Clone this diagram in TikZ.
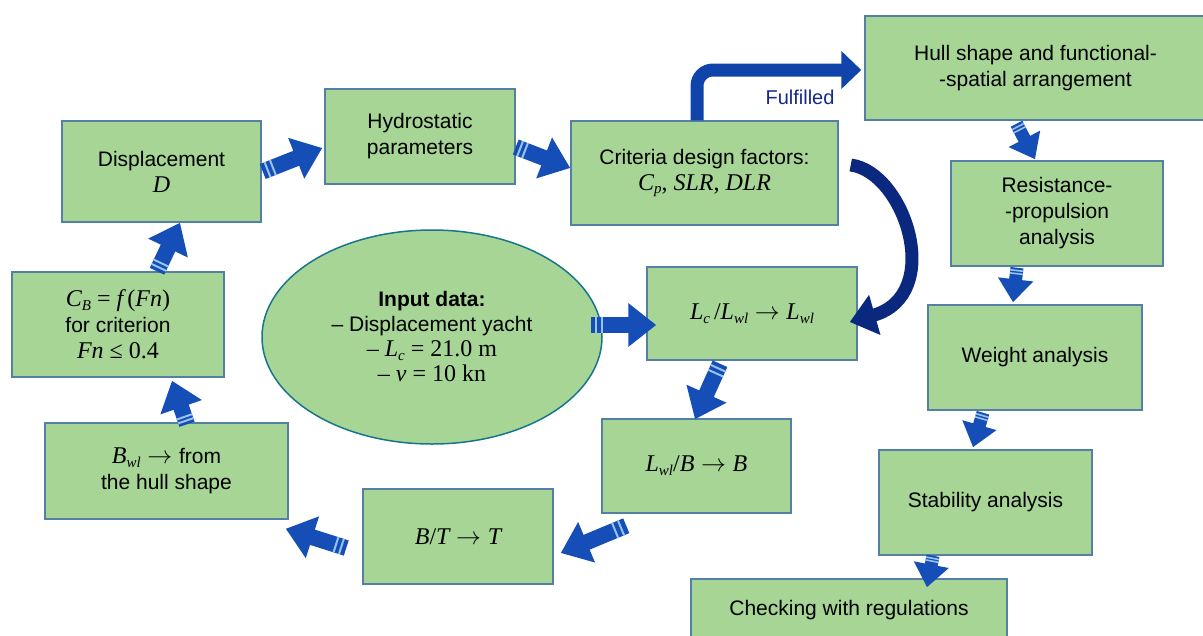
\documentclass[tikz,border=0pt]{standalone}
\usepackage{fontspec}
\setmainfont{Liberation Sans}
\newfontfamily\tnr{Liberation Serif}
\usetikzlibrary{arrows.meta,calc,shapes.geometric}
\definecolor{boxfill}{RGB}{166,213,150}
\definecolor{boxline}{RGB}{84,128,165}
\definecolor{ellline}{RGB}{24,118,140}
\definecolor{arrblue}{RGB}{20,78,182}
\definecolor{arrdark}{RGB}{10,40,125}
\definecolor{fulblue}{RGB}{16,68,170}
\definecolor{stripecol}{RGB}{150,195,240}
\definecolor{txtnavy}{RGB}{22,40,140}
\newcommand{\mv}[1]{{\fontsize{24}{26}\selectfont\tnr\itshape #1}}
\newcommand{\mr}[1]{{\fontsize{24}{26}\selectfont\tnr #1}}
\newcommand{\sbs}[1]{\raisebox{-0.35ex}{\fontsize{15}{15}\selectfont\tnr\itshape #1}}
\newcommand{\ar}{{\fontsize{24}{26}\selectfont\ $\rightarrow$\ }}
\newcommand{\BA}[4]{%
  \draw[#1] #3 -- #4;
  \path #3 -- #4 node[pos=0.08,#2]{} node[pos=0.17,#2]{};}
\begin{document}
\begin{tikzpicture}[x=1pt,y=-1pt,
  box/.style={draw=boxline, line width=1.5pt, fill=boxfill, align=center, inner sep=0pt, font=\fontsize{21}{26}\selectfont},
  bigarrow/.style={draw=arrblue, line width=16pt, -{Triangle[length=28pt,width=42pt]}},
  smallarrow/.style={draw=arrblue, line width=13pt, -{Triangle[length=23pt,width=34pt]}},
  stripeA/.style={fill=stripecol, inner sep=0pt, minimum width=2pt, minimum height=16pt, sloped},
  stripeB/.style={fill=stripecol, inner sep=0pt, minimum width=1.6pt, minimum height=13pt, sloped},
]
\useasboundingbox (0,0) rectangle (1203,635);

% boxes
\node[box, minimum width=199pt, minimum height=101pt] (disp) at (161.5,171.5) {Displacement\\\mv{D}};
\node[box, minimum width=190pt, minimum height=95pt] (hydro) at (420,136.5) {Hydrostatic\\parameters};
\node[box, minimum width=267pt, minimum height=104pt] (crit) at (704.5,173) {Criteria design factors:\\\mv{C}\sbs{p}\mr{, }\mv{SLR}\mr{, }\mv{DLR}};
\node[box, minimum width=341pt, minimum height=104pt] (hull) at (1035.5,68) {Hull shape and functional-\\-spatial arrangement};
\node[box, minimum width=212pt, minimum height=105pt] (res) at (1057,213.5) {Resistance-\\-propulsion\\analysis};
\node[box, minimum width=214pt, minimum height=105pt] (weight) at (1035,357.5) {Weight analysis};
\node[box, minimum width=213pt, minimum height=105pt] (stab) at (985.5,502.5) {Stability analysis};
\node[box, minimum width=316pt, minimum height=62pt] (check) at (849,610) {Checking with regulations};
\node[box, minimum width=210pt, minimum height=93pt] (lc) at (752,313.5) {\mv{L}\sbs{c}\mr{\,/}\mv{L}\sbs{wl}\ar\mv{L}\sbs{wl}};
\node[box, minimum width=189pt, minimum height=94pt] (lwlb) at (696.5,466) {\mv{L}\sbs{wl}\mr{/}\mv{B}\ar\mv{B}};
\node[box, minimum width=190pt, minimum height=95pt] (bt) at (458,536.5) {\mv{B}\mr{/}\mv{T}\ar\mv{T}};
\node[box, minimum width=243pt, minimum height=96pt] (bwl) at (166.5,471) {\mv{B}\sbs{wl}\ar from\\the hull shape};
\node[box, minimum width=212pt, minimum height=105pt] (cb) at (118,324.5) {\mv{C}\sbs{B}\mr{ = }\mv{f}\mr{\,(}\mv{Fn}\mr{)}\\for criterion\\\mv{Fn}\mr{ ≤ 0.4}};
\node[ellipse, draw=ellline, line width=1.5pt, fill=boxfill, minimum width=340pt, minimum height=214pt, inner sep=0pt, align=center, font=\fontsize{21}{25}\selectfont] (input) at (432,337)
  {\textbf{Input data:}\\– Displacement yacht\\\mr{– }\mv{L}\sbs{c}\mr{ = 21.0 m}\\\mr{– }\mv{v}\mr{ = 10 kn}};

% left cycle arrows
\BA{bigarrow}{stripeA}{($(cb.north)+(39,0)$)}{($(disp.south)+(18.5,0)$)}
\BA{bigarrow}{stripeA}{($(disp.east)+(1,0)$)}{($(hydro.west)+(-2,11.5)$)}
\BA{bigarrow}{stripeA}{($(hydro.east)+(0,10.5)$)}{($(crit.west)+(0,-5)$)}
\BA{bigarrow}{stripeA}{($(input.east)+(-12,-12)$)}{($(lc.west)+(10,11.5)$)}
\BA{bigarrow}{stripeA}{($(lc.south)+(-32,3)$)}{($(lwlb.north)+(-1.5,1)$)}
\BA{bigarrow}{stripeA}{($(lwlb.south west)+(25,12)$)}{($(bt.east)+(7,16.5)$)}
\BA{bigarrow}{stripeA}{($(bt.west)+(-16,11.5)$)}{($(bwl.south east)+(-3,9)$)}
\BA{bigarrow}{stripeA}{($(bwl.north)+(20.5,2)$)}{($(cb.south)+(54,3)$)}

% right column arrows
\BA{smallarrow}{stripeB}{($(hull.south)+(-19,3)$)}{($(res.north)+(-22,-1)$)}
\BA{smallarrow}{stripeB}{($(res.south)+(-40,1)$)}{($(weight.north)+(-22,-2)$)}
\BA{smallarrow}{stripeB}{($(weight.south)+(-52,2)$)}{($(stab.north)+(-12.5,-2)$)}
\BA{smallarrow}{stripeB}{($(stab.south)+(-52.5,0)$)}{($(check.north)+(78,9)$)}

% fulfilled arrow
\draw[draw=fulblue, line width=13pt, rounded corners=16pt, -{Triangle[length=20pt,width=37pt]}]
  ($(crit.north)+(-7.5,0)$) |- ($(hull.west)+(-3,2)$);
\node[text=txtnavy, font=\fontsize{20}{24}\selectfont] (ful) at (800,97) {Fulfilled};

% curved return arrow
\draw[draw=arrdark, line width=13pt, -{Triangle[length=26pt,width=40pt]}]
  ($(crit.east)+(12,-8)$) .. controls (905,172) and (945,295) .. ($(lc.east)+(-8,8.5)$);
\end{tikzpicture}
\end{document}
